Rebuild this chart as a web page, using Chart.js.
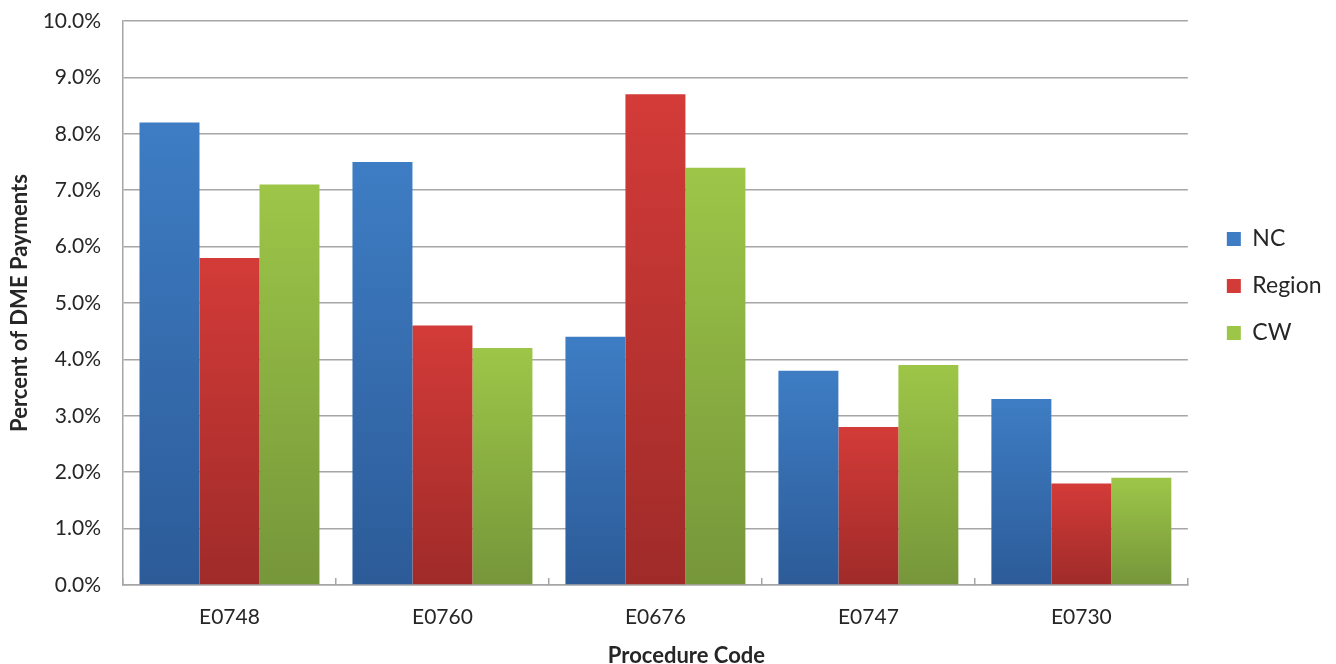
<!DOCTYPE html>
<html>
<head>
<meta charset="utf-8">
<script src="https://cdn.jsdelivr.net/npm/chart.js@4"></script>
<style>
html,body{margin:0;padding:0;background:#fff;}
#wrap{width:1336px;height:664px;position:relative;}
</style>
</head>
<body>
<div id="wrap"><canvas id="c" width="1336" height="664"></canvas></div>
<script>
const categories = ['E0748', 'E0760', 'E0676', 'E0747', 'E0730'];
const ncValues = [8.2, 7.5, 4.4, 3.8, 3.3];
const regionValues = [5.8, 4.6, 8.7, 2.8, 1.8];
const cwValues = [7.1, 4.2, 7.4, 3.9, 1.9];
const seriesNames = ['NC', 'Region', 'CW'];
const yTicks = [0, 1, 2, 3, 4, 5, 6, 7, 8, 9, 10];

const palette = [
  {top: '#3e7dc4', bottom: '#2c5b98'},
  {top: '#d33b38', bottom: '#9f2b29'},
  {top: '#9dc648', bottom: '#76963a'}
];

function barGradient(idx) {
  return function(ctx) {
    const chart = ctx.chart;
    const c = palette[idx];
    if (!chart.chartArea || ctx.type !== 'data') return c.top;
    const ys = chart.scales.y;
    const top = ys.getPixelForValue(ctx.raw);
    const base = ys.getPixelForValue(0);
    if (!isFinite(top) || !isFinite(base) || top === base) return c.top;
    const g = chart.ctx.createLinearGradient(0, top, 0, base);
    g.addColorStop(0, c.top);
    g.addColorStop(1, c.bottom);
    return g;
  };
}
function legendColor(idx) { return palette[idx].top; }

const FONT = 'Lato, "Open Sans", sans-serif';
const TXT = '#262626';

// Shift the x-axis title to the right, as in the reference.
const xTitleShift = {
  id: 'xTitleShift',
  beforeDraw(chart) {
    const sc = chart.scales.x;
    if (!sc || sc._shiftPatched) return;
    const orig = sc.drawTitle.bind(sc);
    sc.drawTitle = function() {
      const c = chart.ctx;
      c.save();
      c.translate(31, 0);
      orig();
      c.restore();
    };
    sc._shiftPatched = true;
  }
};

new Chart(document.getElementById('c'), {
  type: 'bar',
  data: {
    labels: categories,
    datasets: [
      {label: seriesNames[0], data: ncValues, backgroundColor: barGradient(0)},
      {label: seriesNames[1], data: regionValues, backgroundColor: barGradient(1)},
      {label: seriesNames[2], data: cwValues, backgroundColor: barGradient(2)}
    ]
  },
  plugins: [xTitleShift],
  options: {
    responsive: false,
    animation: false,
    devicePixelRatio: 1,
    layout: {padding: {top: 21, right: 4.5, bottom: 0, left: 0}},
    datasets: {bar: {categoryPercentage: 0.845, barPercentage: 1.0, borderWidth: 0}},
    plugins: {
      tooltip: {enabled: false},
      legend: {
        position: 'right',
        fullSize: false,
        align: 'start',
        title: {display: true, text: '', padding: {top: 168, bottom: 0}, font: {size: 12}},
        labels: {
          font: {family: FONT, size: 23},
          color: TXT,
          boxWidth: 14,
          boxHeight: 14,
          padding: 24,
          generateLabels: function(chart) {
            return chart.data.datasets.map((ds, i) => ({
              text: ds.label,
              fillStyle: legendColor(i),
              strokeStyle: legendColor(i),
              lineWidth: 0,
              hidden: false,
              datasetIndex: i,
              fontColor: TXT
            }));
          }
        }
      }
    },
    scales: {
      x: {
        grid: {display: true, drawOnChartArea: false, offset: true, drawTicks: true, tickLength: -7, color: '#a6a6a6', lineWidth: 1.5},
        border: {display: true, color: '#a6a6a6', width: 1.5},
        ticks: {font: {family: FONT, size: 21}, color: TXT, padding: 27},
        title: {display: true, text: 'Procedure Code', font: {family: FONT, size: 22, weight: 'bold'}, color: TXT, padding: {top: 0, bottom: -5}},
        afterFit: function(s) { s.height = 79; }
      },
      y: {
        min: 0,
        max: 10,
        afterBuildTicks: function(s) { s.ticks = yTicks.map(v => ({value: v})); },
        grid: {color: '#a6a6a6', lineWidth: 1.5, drawTicks: false},
        border: {display: true, color: '#a6a6a6', width: 1.5},
        ticks: {font: {family: FONT, size: 21}, color: TXT, padding: 22, callback: v => Number(v).toFixed(1) + '%'},
        title: {display: true, text: 'Percent of DME Payments', font: {family: FONT, size: 22, weight: 'bold'}, color: TXT, padding: {top: 7, bottom: 0}},
        afterFit: function(s) { s.width = 123; s.paddingTop = 0; s.paddingBottom = 0; }
      },
      yPad: {
        position: 'right',
        display: true,
        grid: {display: false, drawTicks: false},
        border: {display: false},
        ticks: {display: false},
        afterFit: function(s) { s.width = 15; }
      }
    }
  }
});
</script>
</body>
</html>
